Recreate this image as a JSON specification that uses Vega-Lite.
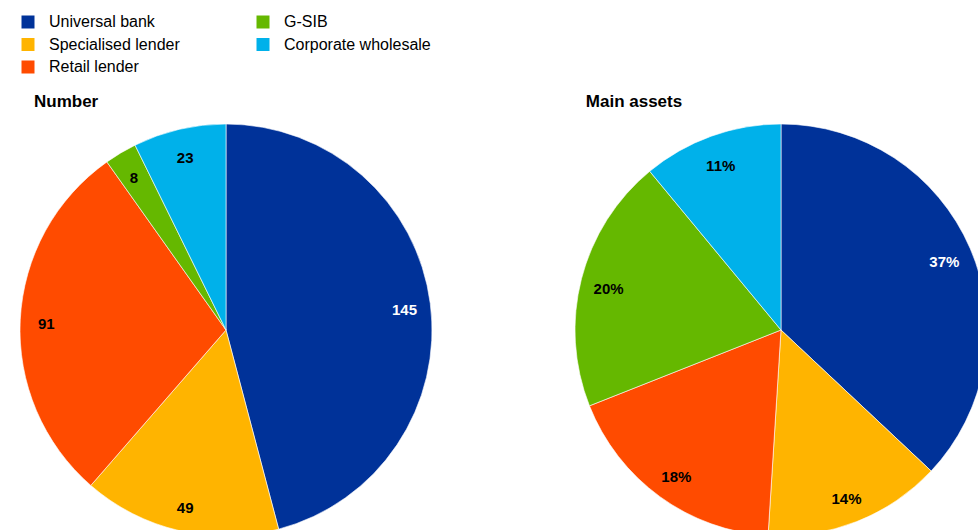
{
  "$schema": "https://vega.github.io/schema/vega-lite/v6.json",
  "background": "white",
  "padding": {"left": 0, "top": 14, "right": 0, "bottom": 0},
  "config": {
    "view": {"stroke": null},
    "font": "Liberation Sans",
    "title": {"font": "Liberation Sans", "fontSize": 17, "fontWeight": "bold", "color": "#000000", "anchor": "start", "baseline": "alphabetic", "offset": 12},
    "legend": {"labelFont": "Liberation Sans"}
  },
  "datasets": {
    "number": [
      {"category": "Universal bank", "value": 145, "label": "145", "order": 1},
      {"category": "Specialised lender", "value": 49, "label": "49", "order": 2},
      {"category": "Retail lender", "value": 91, "label": "91", "order": 3},
      {"category": "G-SIB", "value": 8, "label": "8", "order": 4},
      {"category": "Corporate wholesale", "value": 23, "label": "23", "order": 5}
    ],
    "assets": [
      {"category": "Universal bank", "value": 37, "label": "37%", "order": 1},
      {"category": "Specialised lender", "value": 14, "label": "14%", "order": 2},
      {"category": "Retail lender", "value": 18, "label": "18%", "order": 3},
      {"category": "G-SIB", "value": 20, "label": "20%", "order": 4},
      {"category": "Corporate wholesale", "value": 11, "label": "11%", "order": 5}
    ]
  },
  "hconcat": [
    {
      "title": {"text": "Number", "dx": 34},
      "width": 452,
      "height": 412,
      "data": {"name": "number"},
      "encoding": {
        "theta": {"field": "value", "type": "quantitative", "stack": true},
        "order": {"field": "order", "type": "quantitative"}
      },
      "layer": [
        {
          "mark": {"type": "arc", "radius": 206, "stroke": "#ffffff", "strokeWidth": 0.6},
          "encoding": {
            "color": {
              "field": "category",
              "type": "nominal",
              "scale": {
                "domain": ["Universal bank", "Specialised lender", "Retail lender", "G-SIB", "Corporate wholesale"],
                "range": ["#003299", "#FFB400", "#FF4B00", "#65B800", "#00B1EA"]
              },
              "legend": {
                "orient": "none",
                "legendX": 20,
                "legendY": -110,
                "title": null,
                "columns": 2,
                "columnPadding": 75,
                "rowPadding": 6.5,
                "padding": 0,
                "symbolType": "square",
                "symbolSize": 169,
                "symbolStrokeWidth": 0,
                "labelFontSize": 16,
                "labelOffset": 13,
                "labelColor": "#000000",
                "labelLimit": 300
              }
            }
          }
        },
        {
          "mark": {"type": "text", "radius": 180, "dy": 3, "fontSize": 15, "fontWeight": "bold", "align": "center", "baseline": "middle"},
          "encoding": {
            "text": {"field": "label", "type": "nominal"},
            "color": {"condition": {"test": "datum.category === 'Universal bank'", "value": "#ffffff"}, "value": "#000000"}
          }
        }
      ]
    },
    {
      "title": {"text": "Main assets", "dx": 12},
      "width": 412,
      "height": 412,
      "data": {"name": "assets"},
      "encoding": {
        "theta": {"field": "value", "type": "quantitative", "stack": true},
        "order": {"field": "order", "type": "quantitative"}
      },
      "layer": [
        {
          "mark": {"type": "arc", "radius": 206, "stroke": "#ffffff", "strokeWidth": 0.6},
          "encoding": {
            "color": {"field": "category", "type": "nominal"}
          }
        },
        {
          "mark": {"type": "text", "radius": 178, "dy": 3, "fontSize": 15, "fontWeight": "bold", "align": "center", "baseline": "middle"},
          "encoding": {
            "text": {"field": "label", "type": "nominal"},
            "color": {"condition": {"test": "datum.category === 'Universal bank'", "value": "#ffffff"}, "value": "#000000"}
          }
        }
      ]
    }
  ],
  "spacing": 123,
  "bounds": "flush",
  "resolve": {"scale": {"color": "shared"}}
}
